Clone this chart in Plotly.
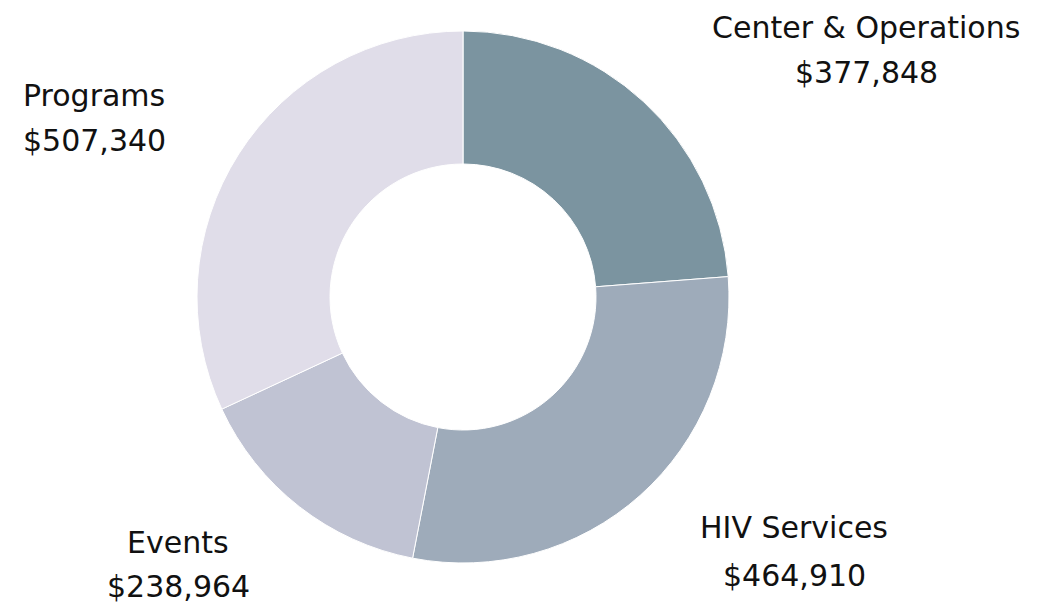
import plotly.graph_objects as go

categories = ["Center & Operations", "HIV Services", "Events", "Programs"]
values = [377848, 464910, 238964, 507340]
colors = ["#7b94a0", "#9eabba", "#c0c3d3", "#e0dde9"]

W, H = 1050, 606
cx, cy, r = 463, 297, 266

fig = go.Figure(go.Pie(
    labels=categories,
    values=values,
    hole=0.5,
    sort=False,
    direction="clockwise",
    rotation=0,
    marker=dict(colors=colors, line=dict(color="white", width=1)),
    textinfo="none",
    hoverinfo="label+value",
    showlegend=False,
    domain=dict(x=[(cx - r) / W, (cx + r) / W], y=[1 - (cy + r) / H, 1 - (cy - r) / H]),
))

# label centers (pixel): (x, y_name, y_value)
label_pos = {
    "Center & Operations": (866, 27, 73),
    "HIV Services": (794, 527, 575),
    "Events": (178, 542, 586),
    "Programs": (94, 95, 140),
}
font = dict(family="DejaVu Sans, sans-serif", size=30, color="#111111")
for cat, val in zip(categories, values):
    px, y1, y2 = label_pos[cat]
    for txt, py in ((cat, y1), (f"${val:,}", y2)):
        fig.add_annotation(
            x=px / W, y=1 - py / H, xref="paper", yref="paper",
            text=txt, showarrow=False, align="center", font=font,
            xanchor="center", yanchor="middle",
        )

fig.update_layout(
    width=W, height=H,
    margin=dict(l=0, r=0, t=0, b=0),
    paper_bgcolor="white", plot_bgcolor="white",
)
fig.write_html("out.html", config={"displayModeBar": False},
               post_script="document.body.style.margin='0';")
